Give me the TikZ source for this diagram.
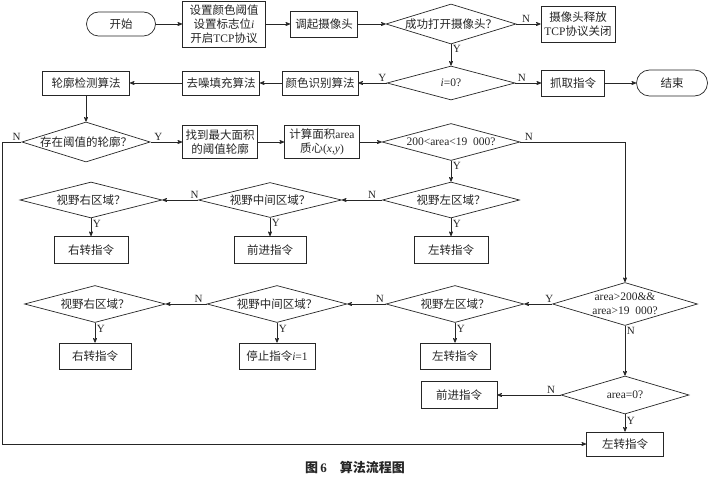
\documentclass[tikz,border=0pt]{standalone}
\usepackage{fontspec}
\setmainfont{Liberation Serif}
\newfontfamily\cjk{Noto Sans CJK SC}
\usepackage{tikz}
\usetikzlibrary{arrows,shapes.geometric}
\newcommand{\en}[1]{{\rmfamily #1}}

\begin{document}
\begin{tikzpicture}[->,>=stealth',auto,x=1pt,y=-1pt,line width=0.7pt,
                    black!85,font=\cjk\fontsize{11.5}{14}\selectfont]
  \tikzstyle{box}=[rectangle,draw,fill=white,inner sep=1pt,align=center]
  \tikzstyle{decision}=[diamond,draw,fill=white,inner sep=0pt,aspect=3.4,align=center]
  \tikzstyle{terminal}=[rectangle,rounded corners=12pt,draw,fill=white,minimum width=69pt,minimum height=24pt]
  \tikzstyle{yn}=[font=\rmfamily\fontsize{11}{12}\selectfont,inner sep=1.5pt]

  \useasboundingbox (0,0) rectangle (711,481);

  \node[terminal] (0) at (121,24) {开始};
  \node[box,minimum width=83pt,minimum height=46pt] (1) at (224,24) {设置颜色阈值\\设置标志位\en{\textit{i}}\\开启\en{TCP}协议};
  \node[box,minimum width=67pt,minimum height=26pt] (2) at (324,24) {调起摄像头};
  \node[decision,minimum width=130pt,minimum height=40pt] (3) at (451,24) {成功打开摄像头？};
  \node[box,minimum width=74pt,minimum height=36pt] (4) at (578,24) {摄像头释放\\\en{TCP}协议关闭};

  \node[decision,minimum width=128pt,minimum height=34pt] (5) at (451,83) {\en{\textit{i}=0?}};
  \node[box,minimum width=63pt,minimum height=26pt] (6) at (573,83) {抓取指令};
  \node[terminal,minimum width=71pt,minimum height=26pt,rounded corners=13pt] (7) at (672,83) {结束};
  \node[box,minimum width=76pt,minimum height=24pt] (8) at (320,83) {颜色识别算法};
  \node[box,minimum width=77pt,minimum height=24pt] (9) at (221,83) {去噪填充算法};
  \node[box,minimum width=87pt,minimum height=24pt] (10) at (86,83) {轮廓检测算法};

  \node[decision,minimum width=128pt,minimum height=40pt] (11) at (86,142) {存在阈值的轮廓？};
  \node[box,minimum width=75pt,minimum height=33pt] (12) at (220,142) {找到最大面积\\的阈值轮廓};
  \node[box,minimum width=75pt,minimum height=33pt] (13) at (322,142) {计算面积\en{area}\\质心\en{(\textit{x},\textit{y})}};
  \node[decision,minimum width=138pt,minimum height=37pt] (14) at (451,142) {\en{200<area<19\enspace000?}};

  \node[decision,minimum width=137pt,minimum height=36pt] (15) at (451,200) {视野左区域？};
  \node[decision,minimum width=143pt,minimum height=35pt] (16) at (270,200) {视野中间区域？};
  \node[decision,minimum width=142pt,minimum height=36pt] (17) at (91,200) {视野右区域？};
  \node[box,minimum width=74pt,minimum height=27pt] (18) at (91,250) {右转指令};
  \node[box,minimum width=72pt,minimum height=27pt] (19) at (270,250) {前进指令};
  \node[box,minimum width=74pt,minimum height=27pt] (20) at (451,250) {左转指令};

  \node[decision,minimum width=145pt,minimum height=43pt,inner sep=-6pt] (21) at (625,304) {\en{area>200\&\&}\\\en{area>19\enspace000?}};
  \node[decision,minimum width=138pt,minimum height=37pt] (22) at (455,304) {视野左区域？};
  \node[decision,minimum width=140pt,minimum height=37pt] (23) at (277,304) {视野中间区域？};
  \node[decision,minimum width=141pt,minimum height=37pt] (24) at (95,304) {视野右区域？};
  \node[box,minimum width=72pt,minimum height=26pt] (25) at (95,356) {右转指令};
  \node[box,minimum width=76pt,minimum height=26pt] (26) at (277,356) {停止指令\en{\textit{i}=1}};
  \node[box,minimum width=70pt,minimum height=26pt] (27) at (455,356) {左转指令};

  \node[decision,minimum width=128pt,minimum height=38pt] (28) at (625,395) {\en{area=0?}};
  \node[box,minimum width=76pt,minimum height=27pt] (29) at (459,395) {前进指令};
  \node[box,minimum width=77pt,minimum height=24pt] (30) at (625,444) {左转指令};

  \coordinate (a) at (2,142);
  \coordinate (b) at (625,142);

  \node[font=\cjk\bfseries\fontsize{13}{15}\selectfont] (cap) at (355,467) {图\,{\rmfamily\bfseries 6}\quad 算法流程图};

  \path (0) edge (1)
(1) edge (2)
(2) edge (3)
(3) edge node[yn,pos=0.4] {N} (4)
(3) edge node[yn,pos=0.2] {Y} (5)
(5) edge node[yn,pos=0.25] {N} (6)
(6) edge (7)
(5) edge node[yn,pos=0.15,swap] {Y} (8)
(8) edge (9)
(9) edge (10)
(10) edge (11)
(11) edge node[yn,pos=0.25] {Y} (12)
(12) edge (13)
(13) edge (14)
(14) edge node[yn,pos=0.25] {Y} (15)
(15) edge node[yn,pos=0.25,swap] {N} (16)
(16) edge node[yn,pos=0.1,swap] {N} (17)
(15) edge node[yn,pos=0.3] {Y} (20)
(16) edge node[yn,pos=0.3] {Y} (19)
(17) edge node[yn,pos=0.3] {Y} (18)
(21) edge node[yn,pos=0.1,swap] {Y} (22)
(22) edge node[yn,pos=0.15,swap] {N} (23)
(23) edge node[yn,pos=0.2,swap] {N} (24)
(22) edge node[yn,pos=0.3] {Y} (27)
(23) edge node[yn,pos=0.3] {Y} (26)
(24) edge node[yn,pos=0.3] {Y} (25)
(21) edge node[yn,pos=0.1] {N} (28)
(28) edge node[yn,pos=0.15,swap] {N} (29)
(28) edge node[yn,pos=0.4] {Y} (30)
;
  \draw (11) -- node[yn,pos=0.25,swap] {N} (a) |- (30);
  \draw (14) -- node[yn,pos=0.08] {N} (b) -- (21);

\end{tikzpicture}
\end{document}
